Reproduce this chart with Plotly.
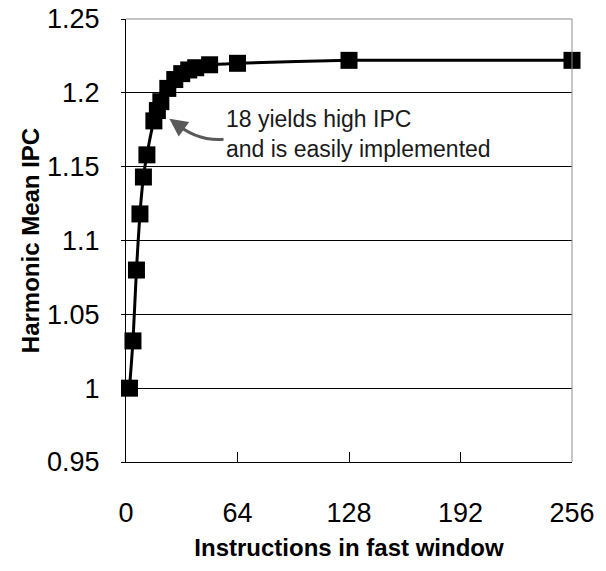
import plotly.graph_objects as go

# Data
window_sizes = [2, 4, 6, 8, 10, 12, 16, 18, 20, 24, 28, 32, 36, 40, 48, 64, 128, 256]
harmonic_ipc = [1.000, 1.032, 1.080, 1.118, 1.143, 1.158, 1.181, 1.188, 1.194,
                1.203, 1.209, 1.213, 1.2155, 1.217, 1.219, 1.220, 1.222, 1.222]

x_tick_vals = [0, 64, 128, 192, 256]
x_tick_text = ["0", "64", "128", "192", "256"]
y_tick_vals = [0.95, 1.0, 1.05, 1.1, 1.15, 1.2, 1.25]
y_tick_text = ["0.95", "1", "1.05", "1.1", "1.15", "1.2", "1.25"]

note_text = "18 yields high IPC<br>and is easily implemented"

FONT = "Liberation Sans, Arial, sans-serif"

fig = go.Figure()
fig.add_trace(go.Scatter(
    x=window_sizes, y=harmonic_ipc, mode="lines+markers",
    line=dict(color="black", width=3, shape="spline", smoothing=0.6),
    marker=dict(symbol="square", size=17, color="black"),
    cliponaxis=False, showlegend=False,
))

fig.update_layout(
    width=606, height=571,
    margin=dict(l=126, r=34, t=19, b=109),
    paper_bgcolor="white", plot_bgcolor="white",
    font=dict(family=FONT, color="black"),
    xaxis=dict(
        range=[0, 256], tickvals=x_tick_vals, ticktext=x_tick_text,
        showgrid=False, zeroline=False,
        showline=True, linecolor="black", linewidth=1,
        ticks="inside", ticklen=10, tickcolor="black",
        tickfont=dict(size=27, family=FONT), ticklabelstandoff=27,
        title=dict(text="<b>Instructions in fast window</b>",
                   font=dict(size=24, family=FONT), standoff=11),
        automargin=False,
    ),
    yaxis=dict(
        range=[0.95, 1.25], tickvals=y_tick_vals, ticktext=y_tick_text,
        showgrid=True, gridcolor="black", gridwidth=1, zeroline=False,
        showline=True, linecolor="black", linewidth=1,
        ticks="outside", ticklen=4, tickcolor="black",
        tickfont=dict(size=27, family=FONT), ticklabelstandoff=16,
        title=dict(text="<b>Harmonic Mean IPC</b>",
                   font=dict(size=24, family=FONT), standoff=0),
        automargin=False,
    ),
)

# gray frame on top and right
fig.add_shape(type="line", xref="paper", yref="paper", x0=0, x1=1, y0=1, y1=1,
              line=dict(color="#8c8c8c", width=1), layer="above")
fig.add_shape(type="line", xref="paper", yref="paper", x0=1, x1=1, y0=0, y1=1,
              line=dict(color="#8c8c8c", width=1), layer="above")

# curved arrow body
fig.add_shape(type="path", xref="x", yref="y",
              path="M 56,1.1685 Q 40,1.1672 27.5,1.1805",
              line=dict(color="#595959", width=3))
# arrowhead
fig.add_annotation(x=24.9, y=1.1825, ax=29.0, ay=1.1790, xref="x", yref="y",
                   axref="x", ayref="y", text="", showarrow=True,
                   arrowhead=2, arrowsize=1.2, arrowwidth=3, arrowcolor="#595959")

fig.add_annotation(x=56.0, y=1.172, xref="x", yref="y", text=note_text,
                   showarrow=False, xanchor="left", yanchor="middle", align="left",
                   font=dict(size=23, family=FONT, color="#1a1a1a"))

fig.write_html("out.html", config={"displayModeBar": False},
               post_script="document.body.style.margin='0';document.body.style.padding='0';")
